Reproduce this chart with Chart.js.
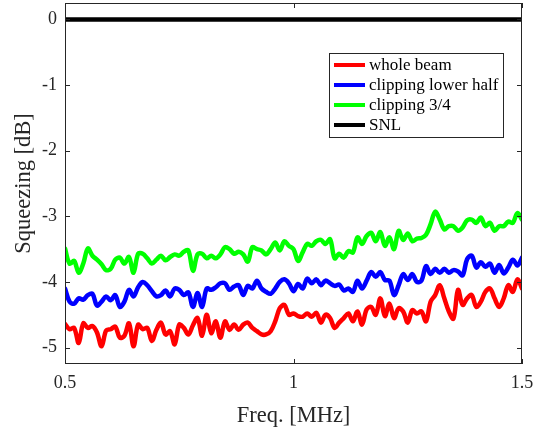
<!DOCTYPE html>
<html>
<head>
<meta charset="utf-8">
<script src="https://cdn.jsdelivr.net/npm/chart.js@4"></script>
<style>
html,body{margin:0;padding:0;background:#fff;}
#wrap{width:533px;height:434px;}
</style>
</head>
<body>
<div id="wrap"><canvas id="c" width="533" height="434"></canvas></div>
<script>
// ---- data ----
const freq = [];
for (let i = 0; i <= 100; i++) freq.push(+(0.5 + i * 0.01).toFixed(2));

const wholeBeam = [
-4.64,-4.72,-4.70,-4.93,-4.63,-4.70,-4.67,-4.77,-4.98,-4.74,
-4.72,-4.68,-4.85,-4.82,-4.63,-4.98,-4.65,-4.72,-4.70,-4.90,
-4.73,-4.62,-4.80,-4.75,-4.95,-4.65,-4.70,-4.80,-4.66,-4.55,
-4.82,-4.50,-4.78,-4.60,-4.85,-4.60,-4.73,-4.65,-4.73,-4.65,
-4.62,-4.70,-4.75,-4.80,-4.80,-4.75,-4.60,-4.40,-4.35,-4.50,
-4.48,-4.52,-4.53,-4.48,-4.53,-4.47,-4.62,-4.50,-4.55,-4.70,
-4.62,-4.55,-4.48,-4.60,-4.45,-4.65,-4.42,-4.38,-4.50,-4.25,
-4.52,-4.33,-4.55,-4.40,-4.45,-4.62,-4.43,-4.48,-4.45,-4.60,
-4.30,-4.20,-4.05,-4.25,-4.45,-4.56,-4.12,-4.35,-4.25,-4.20,
-4.38,-4.30,-4.15,-4.10,-4.25,-4.38,-4.25,-4.05,-4.15,-3.96,
-4.10];

const clipLowerHalf = [
-4.10,-4.30,-4.33,-4.25,-4.27,-4.20,-4.18,-4.36,-4.30,-4.22,
-4.28,-4.20,-4.38,-4.30,-4.12,-4.22,-4.08,-4.00,-4.05,-4.14,
-4.22,-4.20,-4.13,-4.22,-4.10,-4.12,-4.20,-4.16,-4.38,-4.17,
-4.38,-4.10,-4.12,-4.08,-4.02,-4.02,-4.12,-4.07,-4.05,-4.20,
-4.06,-4.10,-3.98,-4.10,-4.15,-4.18,-4.10,-4.00,-3.96,-4.02,
-4.14,-4.03,-4.10,-3.95,-4.02,-3.96,-4.05,-3.98,-4.02,-4.06,
-4.04,-4.13,-4.10,-4.15,-3.98,-4.10,-3.98,-3.85,-3.92,-3.85,
-3.97,-3.98,-4.20,-4.05,-3.88,-3.97,-3.88,-4.00,-3.98,-3.76,
-3.88,-3.80,-3.86,-3.80,-3.86,-3.82,-3.84,-3.90,-3.65,-3.60,
-3.78,-3.70,-3.77,-3.72,-3.86,-3.74,-3.87,-3.78,-3.66,-3.75,
-3.63];

const clip34 = [
-3.49,-3.72,-3.68,-3.86,-3.72,-3.49,-3.60,-3.66,-3.73,-3.82,
-3.80,-3.66,-3.63,-3.72,-3.62,-3.86,-3.57,-3.57,-3.64,-3.72,
-3.66,-3.60,-3.67,-3.62,-3.58,-3.60,-3.54,-3.52,-3.83,-3.58,
-3.57,-3.64,-3.60,-3.64,-3.58,-3.47,-3.50,-3.57,-3.54,-3.58,
-3.69,-3.47,-3.50,-3.52,-3.58,-3.50,-3.40,-3.52,-3.38,-3.45,
-3.50,-3.68,-3.55,-3.42,-3.45,-3.38,-3.36,-3.42,-3.35,-3.64,
-3.57,-3.63,-3.53,-3.55,-3.32,-3.42,-3.30,-3.25,-3.38,-3.24,
-3.45,-3.32,-3.50,-3.22,-3.36,-3.26,-3.38,-3.34,-3.33,-3.28,
-3.12,-2.93,-3.05,-3.20,-3.15,-3.15,-3.22,-3.17,-3.06,-3.05,
-3.10,-3.02,-3.15,-3.10,-3.22,-3.15,-3.15,-3.08,-3.10,-2.95,
-3.05];

const snlX = [0.5, 1.5];
const snl = [0, 0];

const xTicks = [0.5, 1, 1.5];
const xTickLabels = ['0.5', '1', '1.5'];
const yTicks = [0, -1, -2, -3, -4, -5];
const yTickLabels = ['0', '-1', '-2', '-3', '-4', '-5'];

const seriesNames = ['whole beam', 'clipping lower half', 'clipping 3/4', 'SNL'];

// ---- build ----
const pts = (xs, ys) => ys.map((v, i) => ({x: xs[i], y: v}));
const AX = '#262626';
const FONT = '"Liberation Serif", "Times New Roman", serif';

const boxTicks = {
  id: 'boxTicks',
  afterDatasetsDraw(chart) {
    const {ctx, chartArea: a, scales} = chart;
    ctx.save();
    ctx.strokeStyle = AX;
    ctx.lineWidth = 1;
    ctx.strokeRect(a.left + 0.5, a.top + 0.5, a.right - a.left - 1, a.bottom - a.top - 1);
    const L = 5;
    ctx.beginPath();
    xTicks.forEach(v => {
      const px = Math.round(scales.x.getPixelForValue(v)) + 0.5;
      ctx.moveTo(px, a.bottom); ctx.lineTo(px, a.bottom - L);
      ctx.moveTo(px, a.top); ctx.lineTo(px, a.top + L);
    });
    yTicks.forEach(v => {
      const py = Math.round(scales.y.getPixelForValue(v)) + 0.5;
      ctx.moveTo(a.left, py); ctx.lineTo(a.left + L, py);
      ctx.moveTo(a.right, py); ctx.lineTo(a.right - L, py);
    });
    ctx.stroke();
    ctx.restore();
  },
  afterDraw(chart) {
    const {ctx} = chart;
    const bx = 329, by = 53, bw = 174, bh = 84;
    ctx.save();
    ctx.fillStyle = '#fff';
    ctx.fillRect(bx, by, bw, bh);
    ctx.strokeStyle = AX;
    ctx.lineWidth = 1;
    ctx.strokeRect(bx + 0.5, by + 0.5, bw, bh);
    ctx.font = '17px ' + FONT;
    ctx.textBaseline = 'middle';
    ctx.fillStyle = '#000';
    chart.data.datasets.forEach((ds, i) => {
      const y = 65 + i * 20;
      ctx.strokeStyle = ds.borderColor;
      ctx.lineWidth = 4;
      ctx.beginPath();
      ctx.moveTo(334, y); ctx.lineTo(365, y);
      ctx.stroke();
      ctx.fillText(ds.label, 369, y + 1);
    });
    ctx.restore();
  }
};

new Chart(document.getElementById('c'), {
  type: 'line',
  data: {
    datasets: [
      {label: seriesNames[0], data: pts(freq, wholeBeam), borderColor: '#ff0000'},
      {label: seriesNames[1], data: pts(freq, clipLowerHalf), borderColor: '#0000ff'},
      {label: seriesNames[2], data: pts(freq, clip34), borderColor: '#00ff00'},
      {label: seriesNames[3], data: pts(snlX, snl), borderColor: '#000000', tension: 0}
    ]
  },
  options: {
    responsive: false,
    animation: false,
    devicePixelRatio: 1,
    layout: {padding: {top: 3, right: 11, left: 0, bottom: 0}},
    elements: {
      line: {borderWidth: 4.5, tension: 0.35, fill: false, borderCapStyle: 'round', borderJoinStyle: 'round'},
      point: {radius: 0}
    },
    plugins: {legend: {display: false}, tooltip: {enabled: false}},
    scales: {
      x: {
        type: 'linear', min: 0.5, max: 1.5,
        grid: {display: false, drawTicks: false},
        border: {display: false},
        afterBuildTicks: s => { s.ticks = xTicks.map(v => ({value: v})); },
        afterFit: s => { s.height = 70; s.paddingLeft = 0; s.paddingRight = 0; },
        ticks: {
          padding: 8, color: AX, maxRotation: 0, autoSkip: false,
          font: {family: FONT, size: 18},
          callback: (v) => xTickLabels[xTicks.indexOf(v)]
        },
        title: {display: true, text: 'Freq. [MHz]', color: AX, font: {family: FONT, size: 22.5}, padding: {top: 0, bottom: 4}}
      },
      y: {
        type: 'linear', min: -5.25, max: 0.25,
        grid: {display: false, drawTicks: false},
        border: {display: false},
        afterBuildTicks: s => { s.ticks = yTicks.map(v => ({value: v})); },
        afterFit: s => { s.width = 65; s.paddingTop = 0; s.paddingBottom = 0; },
        ticks: {
          padding: 8, color: AX, autoSkip: false,
          font: {family: FONT, size: 18},
          callback: (v) => yTickLabels[yTicks.indexOf(v)]
        },
        title: {display: true, text: 'Squeezing [dB]', color: AX, font: {family: FONT, size: 22.5}, padding: {top: 11, bottom: 0}}
      }
    }
  },
  plugins: [boxTicks]
});
</script>
</body>
</html>
